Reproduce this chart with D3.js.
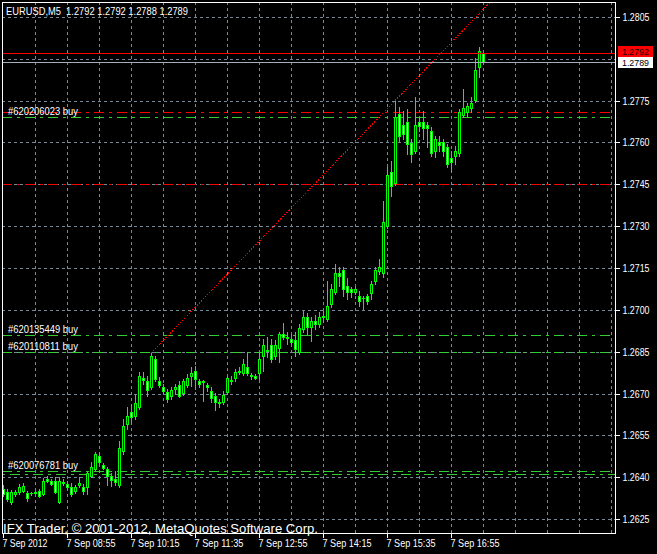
<!DOCTYPE html>
<html><head><meta charset="utf-8">
<script src="https://cdn.jsdelivr.net/npm/d3@7"></script>
<style>html,body{margin:0;padding:0;background:#000;overflow:hidden}svg{display:block}</style>
</head><body><svg id="c" width="657" height="554"></svg>
<script>
// ---------- data ----------
const symbolTitle = "EURUSD,M5  1.2792 1.2792 1.2788 1.2789";
const copyright = "IFX Trader, \u00a9 2001-2012, MetaQuotes Software Corp.";
const firstBar = new Date(2012, 8, 7, 7, 35);
const barMinutes = 5;
const open = [1.26357,1.26346,1.26310,1.26339,1.26346,1.26350,1.26343,1.26343,1.26344,1.26350,
1.26339,1.26393,1.26386,1.26386,1.26310,1.26378,1.26375,1.26364,1.26350,1.26371,
1.26364,1.26364,1.26404,1.26429,1.26475,1.26443,1.26429,1.26404,1.26393,1.26371,
1.26493,1.26590,1.26633,1.26619,1.26651,1.26755,1.26744,1.26723,1.26823,1.26744,
1.26723,1.26705,1.26690,1.26716,1.26730,1.26701,1.26730,1.26762,1.26780,1.26744,
1.26744,1.26730,1.26708,1.26690,1.26669,1.26669,1.26705,1.26748,1.26755,1.26780,
1.26773,1.26794,1.26766,1.26762,1.26773,1.26834,1.26855,1.26873,1.26834,1.26863,
1.26913,1.26902,1.26895,1.26891,1.26848,1.26931,1.26974,1.26938,1.26959,1.26949,
1.26974,1.26967,1.27020,1.27063,1.27132,1.27142,1.27085,1.27074,1.27063,1.27049,
1.27042,1.27049,1.27060,1.27103,1.27139,1.27132,1.27300,1.27494,1.27454,1.27702,
1.27662,1.27673,1.27598,1.27569,1.27673,1.27673,1.27662,1.27641,1.27569,1.27601,
1.27601,1.27583,1.27544,1.27551,1.27562,1.27698,1.27709,1.27723,1.27752,1.27870,
1.27920];
const high = [1.26371,1.26357,1.26353,1.26353,1.26375,1.26378,1.26350,1.26346,1.26350,1.26357,
1.26396,1.26404,1.26393,1.26400,1.26400,1.26393,1.26386,1.26378,1.26371,1.26400,
1.26375,1.26422,1.26454,1.26490,1.26486,1.26450,1.26436,1.26414,1.26422,1.26529,
1.26608,1.26651,1.26662,1.26698,1.26777,1.26777,1.26762,1.26845,1.26834,1.26759,
1.26734,1.26716,1.26723,1.26734,1.26744,1.26751,1.26769,1.26794,1.26798,1.26751,
1.26748,1.26737,1.26723,1.26701,1.26680,1.26708,1.26762,1.26762,1.26787,1.26794,
1.26823,1.26848,1.26773,1.26769,1.26848,1.26895,1.26902,1.26895,1.26891,1.26920,
1.26952,1.26920,1.26913,1.26920,1.26949,1.26995,1.26988,1.26974,1.26981,1.26992,
1.26995,1.27103,1.27092,1.27164,1.27153,1.27153,1.27114,1.27081,1.27081,1.27067,
1.27049,1.27056,1.27103,1.27153,1.27182,1.27390,1.27512,1.27533,1.27748,1.27727,
1.27712,1.27720,1.27612,1.27763,1.27691,1.27712,1.27673,1.27655,1.27623,1.27623,
1.27612,1.27594,1.27569,1.27587,1.27720,1.27791,1.27741,1.27763,1.27903,1.27942,
1.27920];
const low = [1.26332,1.26314,1.26303,1.26332,1.26339,1.26346,1.26314,1.26335,1.26343,1.26328,
1.26335,1.26382,1.26371,1.26343,1.26307,1.26371,1.26357,1.26332,1.26343,1.26364,
1.26339,1.26339,1.26400,1.26422,1.26447,1.26429,1.26371,1.26368,1.26371,1.26364,
1.26482,1.26572,1.26597,1.26608,1.26644,1.26734,1.26690,1.26716,1.26744,1.26723,
1.26701,1.26669,1.26680,1.26698,1.26687,1.26694,1.26723,1.26726,1.26716,1.26723,
1.26673,1.26708,1.26669,1.26640,1.26651,1.26662,1.26698,1.26734,1.26744,1.26769,
1.26766,1.26766,1.26751,1.26751,1.26751,1.26780,1.26830,1.26812,1.26823,1.26812,
1.26895,1.26877,1.26877,1.26834,1.26841,1.26920,1.26913,1.26888,1.26931,1.26938,
1.26959,1.26959,1.27010,1.27056,1.27085,1.27049,1.27038,1.27045,1.27056,1.27013,
1.27002,1.27020,1.27038,1.27092,1.27128,1.27117,1.27293,1.27408,1.27447,1.27605,
1.27612,1.27558,1.27530,1.27562,1.27641,1.27612,1.27583,1.27551,1.27548,1.27569,
1.27551,1.27512,1.27497,1.27522,1.27551,1.27691,1.27695,1.27709,1.27745,1.27834,
1.27880];
const close = [1.26339,1.26321,1.26346,1.26346,1.26364,1.26368,1.26325,1.26343,1.26346,1.26332,
1.26386,1.26386,1.26375,1.26346,1.26386,1.26382,1.26364,1.26339,1.26364,1.26378,
1.26350,1.26414,1.26436,1.26482,1.26454,1.26432,1.26404,1.26389,1.26382,1.26504,
1.26583,1.26619,1.26615,1.26665,1.26762,1.26748,1.26712,1.26834,1.26751,1.26730,
1.26708,1.26680,1.26712,1.26723,1.26690,1.26744,1.26755,1.26773,1.26751,1.26734,
1.26741,1.26723,1.26683,1.26669,1.26665,1.26694,1.26755,1.26744,1.26777,1.26778,
1.26805,1.26773,1.26762,1.26755,1.26823,1.26873,1.26852,1.26823,1.26873,1.26913,
1.26902,1.26900,1.26884,1.26859,1.26934,1.26974,1.26938,1.26959,1.26949,1.26974,
1.26977,1.27013,1.27074,1.27132,1.27121,1.27074,1.27063,1.27063,1.27074,1.27031,
1.27042,1.27031,1.27092,1.27142,1.27153,1.27314,1.27483,1.27444,1.27691,1.27623,
1.27630,1.27594,1.27558,1.27662,1.27659,1.27652,1.27652,1.27562,1.27612,1.27591,
1.27569,1.27522,1.27530,1.27569,1.27709,1.27723,1.27730,1.27741,1.27859,1.27928,
1.27890];
const priceTicks = [1.2625,1.2640,1.2655,1.2670,1.2685,1.2700,1.2715,1.2730,1.2745,1.2760,1.2775,1.2790,1.2805];
const priceLabelTicks = [1.2625,1.2640,1.2655,1.2670,1.2685,1.2700,1.2715,1.2730,1.2745,1.2760,1.2775,1.2805];
const timeLabelBars = [0,16,32,48,64,80,96,112];
const gridBars = [8,16,24,32,40,48,56,64,72,80,88,96,104,112,120,128,136,144,152];
const visibleBars = 153;
const askPrice = 1.2792, bidPrice = 1.2789;
const askLabel = "1.2792", bidLabel = "1.2789";
const orderPrices = [1.2769, 1.2691, 1.2685, 1.26423, 1.26413];
const orderLabels = ["#620206023 buy", "#620135449 buy", "#620110811 buy", "#620076781 buy", ""];
const stopPrices = [1.2771, 1.2745];
const trendBars = [37, 120];
const trendPrices = [1.26845, 1.28076];

// ---------- layout ----------
const L = 2, R = 615, T = 2, B = 533;
const FONT = "'Liberation Sans', Arial, sans-serif";
const GRID = "#778899", LIME = "#00ff00";
const svg = d3.select("#c");
svg.append("rect").attr("width", 657).attr("height", 554).attr("fill", "#000");

const barTime = i => d3.timeMinute.offset(firstBar, i * barMinutes);
const x = d3.scaleTime().domain([firstBar, barTime(visibleBars)]).range([3, 615]);
const y = d3.scaleLinear().domain([1.2620, 1.2810]).range([533, 3]);
const px = v => Math.round(v) + 0.5;

svg.append("clipPath").attr("id", "plot").append("rect")
  .attr("x", L + 1).attr("y", T + 1).attr("width", R - L - 1).attr("height", B - T - 1);
const plot = svg.append("g").attr("clip-path", "url(#plot)");

// grid
plot.append("g").selectAll("line").data(priceTicks).join("line")
  .attr("x1", L).attr("x2", R).attr("y1", d => px(y(d))).attr("y2", d => px(y(d)))
  .attr("stroke", GRID).attr("stroke-dasharray", "3,3").attr("shape-rendering", "crispEdges");
plot.append("g").selectAll("line").data(gridBars).join("line")
  .attr("x1", d => px(x(barTime(d)))).attr("x2", d => px(x(barTime(d))))
  .attr("y1", T).attr("y2", B)
  .attr("stroke", GRID).attr("stroke-dasharray", "3,3").attr("shape-rendering", "crispEdges");

// order / stop lines
plot.append("g").selectAll("line").data(stopPrices).join("line")
  .attr("x1", L).attr("x2", R).attr("y1", d => px(y(d))).attr("y2", d => px(y(d)))
  .attr("stroke", "#ff0000").attr("stroke-dasharray", "10,5,3,5").attr("shape-rendering", "crispEdges");
plot.append("g").selectAll("line").data(orderPrices).join("line")
  .attr("x1", L).attr("x2", R).attr("y1", d => px(y(d))).attr("y2", d => px(y(d)))
  .attr("stroke", "#32cd32").attr("stroke-dasharray", (d, i) => i === 4 ? "3,5,10,5" : "10,5,3,5")
  .attr("shape-rendering", "crispEdges");

// trend line (ray)
const tx0 = x(barTime(trendBars[0])), ty0 = y(trendPrices[0]);
const tx1 = x(barTime(trendBars[1])), ty1 = y(trendPrices[1]);
const slope = (ty1 - ty0) / (tx1 - tx0);
plot.append("line")
  .attr("x1", tx0).attr("y1", ty0).attr("x2", 700).attr("y2", ty0 + slope * (700 - tx0))
  .attr("stroke", "#ff0000").attr("stroke-width", 1).attr("stroke-dasharray", "1.5,1.5")
  .attr("shape-rendering", "crispEdges");

// candles
const bars = open.map((o, i) => ({ i, o, h: high[i], l: low[i], c: close[i] }));
const cg = plot.append("g").attr("shape-rendering", "crispEdges");
bars.forEach(b => {
  const cx = Math.round(x(barTime(b.i)));
  cg.append("line").attr("x1", cx + 0.5).attr("x2", cx + 0.5)
    .attr("y1", Math.round(y(b.h))).attr("y2", Math.round(y(b.l)) + 1)
    .attr("stroke", LIME);
  const yt = Math.round(y(Math.max(b.o, b.c))), yb = Math.round(y(Math.min(b.o, b.c)));
  if (yb - yt < 1) {
    cg.append("line").attr("x1", cx - 1).attr("x2", cx + 2)
      .attr("y1", yt + 0.5).attr("y2", yt + 0.5).attr("stroke", LIME);
  } else {
    cg.append("rect").attr("x", cx - 0.5).attr("y", yt + 0.5)
      .attr("width", 2).attr("height", yb - yt)
      .attr("fill", b.c > b.o ? "#000" : "#fff").attr("stroke", LIME);
  }
});

// ask / bid lines
plot.append("line").attr("x1", L).attr("x2", R).attr("y1", px(y(askPrice))).attr("y2", px(y(askPrice)))
  .attr("stroke", "#ff0000").attr("shape-rendering", "crispEdges");
plot.append("line").attr("x1", L).attr("x2", R).attr("y1", px(y(bidPrice))).attr("y2", px(y(bidPrice)))
  .attr("stroke", "#a4aebb").attr("shape-rendering", "crispEdges");

// order labels
svg.append("g").selectAll("text").data(orderPrices.map((p, i) => ({ p, t: orderLabels[i] })).filter(d => d.t))
  .join("text")
  .attr("x", 8).attr("y", d => Math.round(y(d.p)) - 2)
  .attr("fill", "#fff").attr("font-family", FONT).attr("font-size", 11.5)
  .attr("textLength", 70).attr("lengthAdjust", "spacingAndGlyphs")
  .text(d => d.t);

// frame
svg.append("rect").attr("x", L + 0.5).attr("y", T + 0.5).attr("width", R - L).attr("height", B - T)
  .attr("fill", "none").attr("stroke", "#fff").attr("shape-rendering", "crispEdges");

// price axis
const yAxis = svg.append("g").attr("transform", `translate(${R + 0.5},0)`)
  .call(d3.axisRight(y).tickValues(priceLabelTicks).tickSize(4).tickPadding(4).tickFormat(d3.format(".4f")));
yAxis.select(".domain").remove();
yAxis.selectAll(".tick").attr("transform", d => `translate(0,${px(y(d))})`);
yAxis.selectAll(".tick line").attr("stroke", "#fff").attr("shape-rendering", "crispEdges");
yAxis.selectAll(".tick text").attr("fill", "#fff").attr("font-family", FONT).attr("font-size", 10)
  .attr("x", 7).attr("textLength", 27).attr("lengthAdjust", "spacingAndGlyphs");

// price boxes (ask box partly covered by bid box, as in the terminal)
function priceBox(p, label, bg, fg, top, h, base, fs) {
  const yc = Math.round(y(p));
  svg.append("rect").attr("x", 618).attr("y", yc + top).attr("width", 35).attr("height", h).attr("fill", bg);
  svg.append("text").attr("x", 622).attr("y", yc + base).attr("fill", fg)
    .attr("font-family", FONT).attr("font-size", fs).attr("textLength", 27)
    .attr("lengthAdjust", "spacingAndGlyphs").text(label);
}
priceBox(askPrice, askLabel, "#ff0000", "#200000", -7, 11, 2, 9);
priceBox(bidPrice, bidLabel, "#ffffff", "#000000", -5, 11, 4, 9.5);

// time axis
const xAxis = svg.append("g").attr("transform", `translate(0,${B + 0.5})`)
  .call(d3.axisBottom(x).tickValues(timeLabelBars.map(barTime)).tickSize(4)
    .tickFormat((d, i) => i === 0 ? d3.timeFormat("%-d %b %Y")(d) : d3.timeFormat("%-d %b %H:%M")(d)));
xAxis.select(".domain").remove();
xAxis.selectAll(".tick").attr("transform", d => `translate(${px(x(d))},0)`);
xAxis.selectAll(".tick line").attr("stroke", "#fff").attr("shape-rendering", "crispEdges");
xAxis.selectAll(".tick text").attr("fill", "#fff").attr("font-family", FONT).attr("font-size", 11)
  .attr("text-anchor", "start").attr("x", -1).attr("y", 13).attr("dy", null)
  .attr("textLength", (d, i) => i === 0 ? 45 : 49).attr("lengthAdjust", "spacingAndGlyphs");

// title & copyright
svg.append("text").attr("x", 6).attr("y", 15).attr("fill", "#fff").attr("xml:space", "preserve")
  .style("white-space", "pre")
  .attr("font-family", FONT).attr("font-size", 11).attr("textLength", 182)
  .attr("lengthAdjust", "spacingAndGlyphs").text(symbolTitle);
svg.append("text").attr("x", 3).attr("y", 533).attr("fill", "#fff")
  .attr("font-family", FONT).attr("font-size", 13).attr("textLength", 315)
  .attr("lengthAdjust", "spacingAndGlyphs").text(copyright);
</script></body></html>
